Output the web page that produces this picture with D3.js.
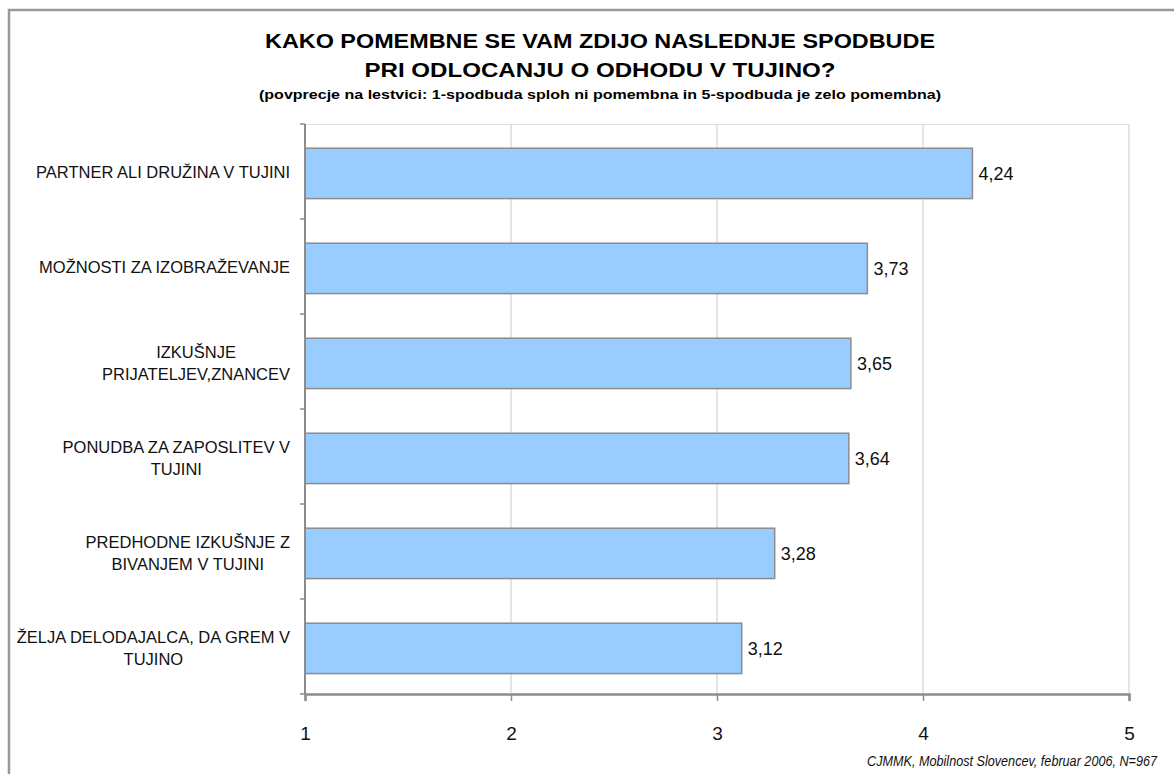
<!DOCTYPE html>
<html>
<head>
<meta charset="utf-8">
<script src="https://cdn.jsdelivr.net/npm/d3@7"></script>
<style>
  html, body { margin: 0; padding: 0; background: #fff; }
  svg { display: block; }
  text { font-family: "Liberation Sans", Arial, sans-serif; }
</style>
</head>
<body>
<svg id="chart" width="1174" height="774"></svg>
<script>
// Incentive categories (line breaks as shown on the axis)
const categories = [
  ["PARTNER ALI DRUŽINA V TUJINI"],
  ["MOŽNOSTI ZA IZOBRAŽEVANJE"],
  ["IZKUŠNJE", "PRIJATELJEV,ZNANCEV"],
  ["PONUDBA ZA ZAPOSLITEV V", "TUJINI"],
  ["PREDHODNE IZKUŠNJE Z", "BIVANJEM V TUJINI"],
  ["ŽELJA DELODAJALCA, DA GREM V", "TUJINO"]
];
// Mean score on the 1–5 scale
const values = [4.24, 3.73, 3.65, 3.64, 3.28, 3.12];
const xTicks = [1, 2, 3, 4, 5];

const titleLines = [
  "KAKO POMEMBNE SE VAM ZDIJO NASLEDNJE SPODBUDE",
  "PRI ODLOCANJU O ODHODU V TUJINO?"
];
const subtitle = "(povprecje na lestvici: 1-spodbuda sploh ni pomembna in 5-spodbuda je zelo pomembna)";
const source = "CJMMK, Mobilnost Slovencev, februar 2006, N=967";

const svg = d3.select("#chart");

// Outer frame: top and left edges of the chart border
svg.append("path")
  .attr("d", "M9,774 V10 H1174")
  .attr("fill", "none")
  .attr("stroke", "#999").attr("stroke-width", 2.5);

const plot = { left: 305, right: 1129, top: 124, bottom: 694 };

const x = d3.scaleLinear().domain([1, 5]).range([plot.left, plot.right]);
const yBands = d3.scaleBand()
  .domain(d3.range(categories.length))
  .range([plot.top, plot.bottom]);
// Bars fill ~53% of each category slot, sitting slightly below centre
const barFrac = 0.53, barOffset = 0.255;

// Titles (wide bold heading)
const cx = 600;
const heading = [
  { text: titleLines[0], y: 48, size: 20, len: 670 },
  { text: titleLines[1], y: 77, size: 20, len: 471 },
  { text: subtitle, y: 99, size: 13.5, len: 682 }
];
svg.append("g").selectAll("text")
  .data(heading)
  .join("text")
  .attr("x", cx).attr("y", d => d.y)
  .attr("text-anchor", "middle").attr("font-weight", "bold")
  .attr("font-size", d => d.size)
  .attr("textLength", d => d.len).attr("lengthAdjust", "spacingAndGlyphs")
  .attr("fill", "#000")
  .text(d => d.text);

// Plot area top edge and vertical gridlines
svg.append("line")
  .attr("x1", plot.left).attr("x2", plot.right)
  .attr("y1", plot.top + 0.5).attr("y2", plot.top + 0.5)
  .attr("stroke", "#e0e0e0").attr("stroke-width", 1);
svg.append("g").selectAll("line")
  .data(xTicks.slice(1))
  .join("line")
  .attr("x1", d => x(d)).attr("x2", d => x(d))
  .attr("y1", plot.top).attr("y2", plot.bottom)
  .attr("stroke", "#dcdcdc").attr("stroke-width", 1.5);

// Bars
const barH = yBands.bandwidth() * barFrac;
const barY = i => yBands(i) + yBands.bandwidth() * barOffset;
svg.append("g").selectAll("rect")
  .data(values)
  .join("rect")
  .attr("x", x(1))
  .attr("y", (d, i) => barY(i))
  .attr("width", d => x(d) - x(1))
  .attr("height", barH)
  .attr("fill", "#99ccff")
  .attr("stroke", "#8c8c8c").attr("stroke-width", 1.5);

// Value labels
svg.append("g").selectAll("text")
  .data(values)
  .join("text")
  .attr("x", d => x(d) + 6)
  .attr("y", (d, i) => barY(i) + barH / 2 + 6.5)
  .attr("font-size", 18)
  .attr("fill", "#111")
  .text(d => d.toFixed(2).replace(".", ","));

// Y axis (category boundaries as tick marks)
const yAxis = svg.append("g");
yAxis.append("line")
  .attr("x1", plot.left).attr("x2", plot.left)
  .attr("y1", plot.top).attr("y2", plot.bottom)
  .attr("stroke", "#8c8c8c").attr("stroke-width", 2);
yAxis.selectAll("line.tick")
  .data(d3.range(categories.length + 1))
  .join("line").attr("class", "tick")
  .attr("x1", plot.left - 5).attr("x2", plot.left)
  .attr("y1", i => i < categories.length ? yBands(i) : plot.bottom)
  .attr("y2", i => i < categories.length ? yBands(i) : plot.bottom)
  .attr("stroke", "#8c8c8c").attr("stroke-width", 1.5);

// Category labels: block right-aligned, lines centred within the block
const labelRight = 290;
const lineH = 22.5;
const labelG = svg.append("g").attr("font-size", 16.5).attr("fill", "#111");
categories.forEach((lines, i) => {
  const cy = yBands(i) + yBands.bandwidth() / 2;
  const t = labelG.append("text").attr("text-anchor", "middle");
  const first = lines.length === 1 ? cy + 6.5 : cy - 4;
  const spans = lines.map((ln, k) =>
    t.append("tspan").attr("y", first + k * lineH).text(ln));
  const w = d3.max(spans, s => s.node().getComputedTextLength());
  spans.forEach(s => s.attr("x", labelRight - w / 2));
});

// X axis
const xAxis = svg.append("g").attr("transform", `translate(0,${plot.bottom})`)
  .call(d3.axisBottom(x).tickValues(xTicks).tickSize(7).tickPadding(26).tickFormat(d3.format("d")));
xAxis.select(".domain").attr("stroke", "#8c8c8c").attr("stroke-width", 2.5);
xAxis.selectAll(".tick line").attr("stroke", "#8c8c8c").attr("stroke-width", 1.5);
xAxis.selectAll(".tick text")
  .attr("font-family", "Liberation Sans, Arial, sans-serif")
  .attr("font-size", 19).attr("fill", "#111");

// Source note, squeezed horizontally to a condensed italic 290px wide
const srcG = svg.append("g");
const srcText = srcG.append("text")
  .attr("x", 0).attr("y", 0)
  .attr("text-anchor", "end").attr("font-style", "italic").attr("font-size", 15)
  .attr("fill", "#111")
  .text(source);
const srcScale = 290 / srcText.node().getComputedTextLength();
srcG.attr("transform", `translate(1157,766) scale(${srcScale},1)`);
</script>
</body>
</html>
